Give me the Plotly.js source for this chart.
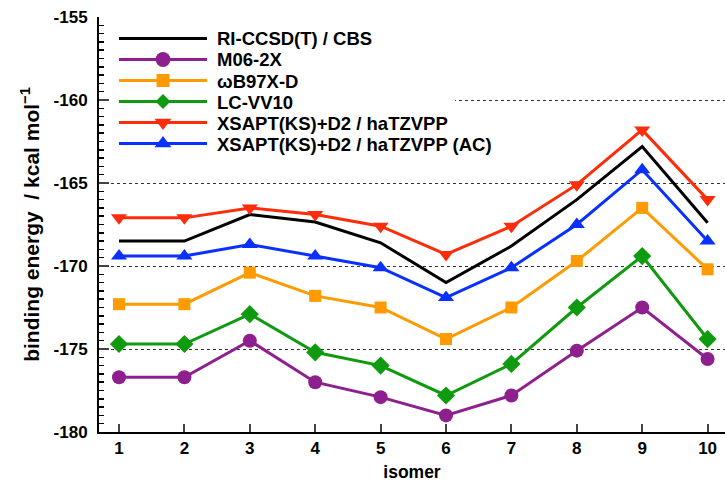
<!DOCTYPE html>
<html><head><meta charset="utf-8">
<script src="https://cdn.plot.ly/plotly-3.0.1.min.js"></script>
<style>html,body{margin:0;padding:0;background:#fff}</style>
</head><body><div id="chart" style="width:725px;height:488px"></div>
<script>
const isomers=[1,2,3,4,5,6,7,8,9,10];
const xTickLabels=['1','2','3','4','5','6','7','8','9','10'];
const yTickVals=[-180,-175,-170,-165,-160,-155];
const yTickLabels=['-180','-175','-170','-165','-160','-155'];
const seriesNames=['RI-CCSD(T) / CBS','M06-2X','ωB97X-D','LC-VV10','XSAPT(KS)+D2 / haTZVPP','XSAPT(KS)+D2 / haTZVPP (AC)'];
const ccsdt=[-168.5,-168.5,-166.9,-167.35,-168.6,-171.0,-168.8,-166.0,-162.8,-167.4];
const m062x=[-176.7,-176.7,-174.5,-177.0,-177.9,-179.0,-177.8,-175.1,-172.5,-175.6];
const wb97xd=[-172.3,-172.3,-170.4,-171.8,-172.5,-174.4,-172.5,-169.7,-166.5,-170.2];
const lcvv10=[-174.7,-174.7,-172.9,-175.2,-176.0,-177.8,-175.9,-172.5,-169.4,-174.4];
const xsapt=[-167.1,-167.1,-166.5,-166.9,-167.6,-169.3,-167.6,-165.1,-161.8,-166.0];
const xsaptAC=[-169.4,-169.4,-168.7,-169.4,-170.1,-171.9,-170.1,-167.5,-164.2,-168.5];

const seriesValues=[ccsdt,m062x,wb97xd,lcvv10,xsapt,xsaptAC];
const colors=['#000000','#8e1f8e','#ff9a00','#109a10','#ff2c0a','#0a30ff'];
const symbols=[null,'circle','square','diamond','triangle-down','triangle-up'];
const sizes=[0,14,12,14,14,14];

const F='"Liberation Sans", Arial, sans-serif';
const data=seriesValues.map((y,i)=>{
  const t={x:isomers,y:y,name:seriesNames[i],type:'scatter',mode:symbols[i]?'lines+markers':'lines',
    line:{color:colors[i],width:3},cliponaxis:false,showlegend:false};
  if(symbols[i]) t.marker={symbol:symbols[i],size:sizes[i],color:colors[i]};
  return t;
});

// custom legend (layout only)
const L=99,R=725,T=17,B=432;
const fx=px=>(px-L)/(R-L), fy=py=>(B-py)/(B-T);
const shapes=[{type:'rect',layer:'above',xref:'paper',yref:'paper',x0:fx(111),x1:fx(455),y0:fy(158),y1:fy(22),
  fillcolor:'#ffffff',line:{width:0}}];
const annotations=[];
const markerPaths={
  'diamond':'M0,7.5L7.5,0L0,-7.5L-7.5,0Z',
  'triangle-down':'M-8.5,3.7L8.5,3.7L0,-7.4Z',
  'triangle-up':'M-8.5,-3.7L8.5,-3.7L0,7.4Z'
};
seriesNames.forEach((nm,i)=>{
  const py=38.5+i*21;
  shapes.push({type:'line',layer:'above',xref:'paper',yref:'paper',x0:fx(119),x1:fx(207),y0:fy(py),y1:fy(py),
    line:{color:colors[i],width:3}});
  const s=symbols[i];
  if(s){
    const base={layer:'above',xref:'paper',yref:'paper',xsizemode:'pixel',ysizemode:'pixel',
      xanchor:fx(163),yanchor:fy(py),fillcolor:colors[i],line:{width:0}};
    if(s==='circle') shapes.push(Object.assign({type:'circle',x0:-7.5,x1:7.5,y0:-7.5,y1:7.5},base));
    else if(s==='square') shapes.push(Object.assign({type:'rect',x0:-6.5,x1:6.5,y0:-6.5,y1:6.5},base));
    else shapes.push(Object.assign({type:'path',path:markerPaths[s]},base));
  }
  annotations.push({xref:'paper',yref:'paper',x:fx(215),y:fy(py+0.5),xanchor:'left',yanchor:'middle',
    showarrow:false,text:nm,font:{family:F,size:18.5,color:'#000',weight:700}});
});

const layout={
  width:725,height:488,
  margin:{l:L,r:725-R,t:T,b:488-B},
  paper_bgcolor:'#fff',plot_bgcolor:'#fff',
  font:{family:F,size:17,color:'#000',weight:700},
  showlegend:false,
  shapes:shapes,annotations:annotations,
  xaxis:{range:[0.694,10.266],tickvals:isomers,ticktext:xTickLabels,ticks:'inside',ticklen:8,tickwidth:2,
    showline:true,linewidth:2,linecolor:'#000',showgrid:false,zeroline:false,
    tickfont:{family:F,size:17,weight:700},
    title:{text:'isomer',font:{family:F,size:17.5,weight:700},standoff:8}},
  yaxis:{range:[-180,-155],tickvals:yTickVals,ticktext:yTickLabels,ticks:'inside',ticklen:10,tickwidth:2,
    showline:true,linewidth:2,linecolor:'#000',zeroline:false,
    showgrid:true,gridcolor:'#333',gridwidth:1,griddash:'3px,3px',
    minor:{dtick:0.5,ticks:'inside',ticklen:5,tickwidth:1.5,tickcolor:'#000',showgrid:false},
    tickfont:{family:F,size:17,weight:700},ticklabelstandoff:6,
    title:{text:'binding energy &nbsp;/ kcal mol<sup>−1</sup>',font:{family:F,size:21,weight:700},standoff:8}}
};
Plotly.newPlot('chart',data,layout,{displayModeBar:false,staticPlot:true});
</script></body></html>
